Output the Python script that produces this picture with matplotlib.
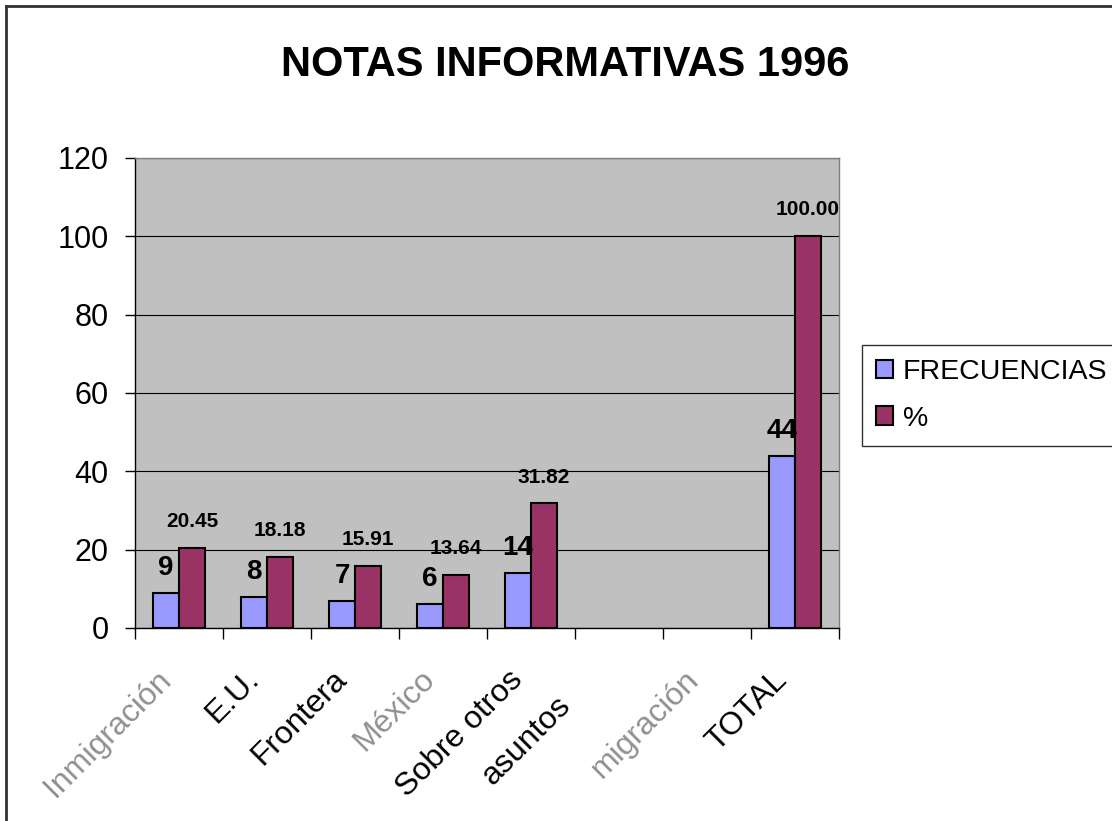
import numpy as np
import matplotlib
matplotlib.use("Agg")
import matplotlib.pyplot as plt
from matplotlib.lines import Line2D

plt.rcParams['font.family'] = ['Liberation Sans', 'DejaVu Sans']

# data
categorias = ["Inmigración", "E.U.", "Frontera", "México", "Sobre otros",
              "asuntos", "migración", "TOTAL"]
frecuencias = [9, 8, 7, 6, 14, np.nan, np.nan, 44]
porcentaje = [20.45, 18.18, 15.91, 13.64, 31.82, np.nan, np.nan, 100.00]
gris = [True, False, False, True, False, False, True, False]  # labels drawn faint

fig = plt.figure(figsize=(11.12, 8.21), dpi=100)
ax = fig.add_axes([0.1214, 0.2351, 0.6331, 0.5725])
ax.set_facecolor("#c0c0c0")

x = np.arange(len(categorias))
w = 0.295
b1 = ax.bar(x - w / 2, frecuencias, w, color="#9999ff", edgecolor="black",
            linewidth=1.5, label="FRECUENCIAS", zorder=3)
b2 = ax.bar(x + w / 2, porcentaje, w, color="#993366", edgecolor="black",
            linewidth=1.5, label="%", zorder=3)

# value labels
for xi, v in zip(x, frecuencias):
    if not np.isnan(v):
        ax.annotate("%d" % v, (xi - w / 2, v), xytext=(0, 13), textcoords="offset points",
                    ha="center", va="baseline", fontsize=20, fontweight="bold")
for xi, v in zip(x, porcentaje):
    if not np.isnan(v):
        ax.annotate("%.2f" % v, (xi + w / 2, v), xytext=(0, 15), textcoords="offset points",
                    ha="center", va="baseline", fontsize=15, fontweight="bold")

ax.set_xlim(-0.5, len(categorias) - 0.5)
ax.set_ylim(0, 120)
ax.set_yticks(range(0, 121, 20))
ax.tick_params(axis="y", labelsize=22, length=7, width=1, pad=12, direction="out")
ax.set_xticks(np.arange(-0.5, len(categorias), 1))
ax.set_xticklabels([])
ax.tick_params(axis="x", length=8, width=1, direction="out")

ax.yaxis.grid(True, color="black", linewidth=0.8, zorder=1)
ax.set_axisbelow(True)
for s in ["left", "bottom"]:
    ax.spines[s].set_color("black")
    ax.spines[s].set_linewidth(1)
for s in ["top", "right"]:
    ax.spines[s].set_color("#808080")
    ax.spines[s].set_linewidth(1)

# rotated category labels
for xi, lab, g in zip(x, categorias, gris):
    dy = -0.10
    dx = -0.14
    if lab == "asuntos":
        dy = -0.155
        dx = -0.60
    ax.text(xi + dx, dy, lab, transform=ax.get_xaxis_transform(),
            rotation=45, rotation_mode="anchor", ha="right", va="center",
            fontsize=23, color="#909090" if g else "black")

fig.text(0.508, 0.9074, "NOTAS INFORMATIVAS 1996", ha="center", va="baseline",
         fontsize=30, fontweight="bold")

leg = fig.legend(handles=[b1, b2], loc="upper left", bbox_to_anchor=(0.775, 0.58),
                 bbox_transform=fig.transFigure, fontsize=20.5, frameon=True,
                 fancybox=False, edgecolor="black", handlelength=0.6, handleheight=0.6,
                 handletextpad=0.35, labelspacing=0.72, borderpad=0.5, borderaxespad=0)
leg.get_frame().set_linewidth(1)

# chart border
fig.add_artist(Line2D([6 / 1112, 6 / 1112], [0, 1 - 6 / 821], color="#333333", linewidth=2))
fig.add_artist(Line2D([6 / 1112, 1], [1 - 6 / 821, 1 - 6 / 821], color="#333333", linewidth=2))

fig.savefig("out.png", dpi=100)
